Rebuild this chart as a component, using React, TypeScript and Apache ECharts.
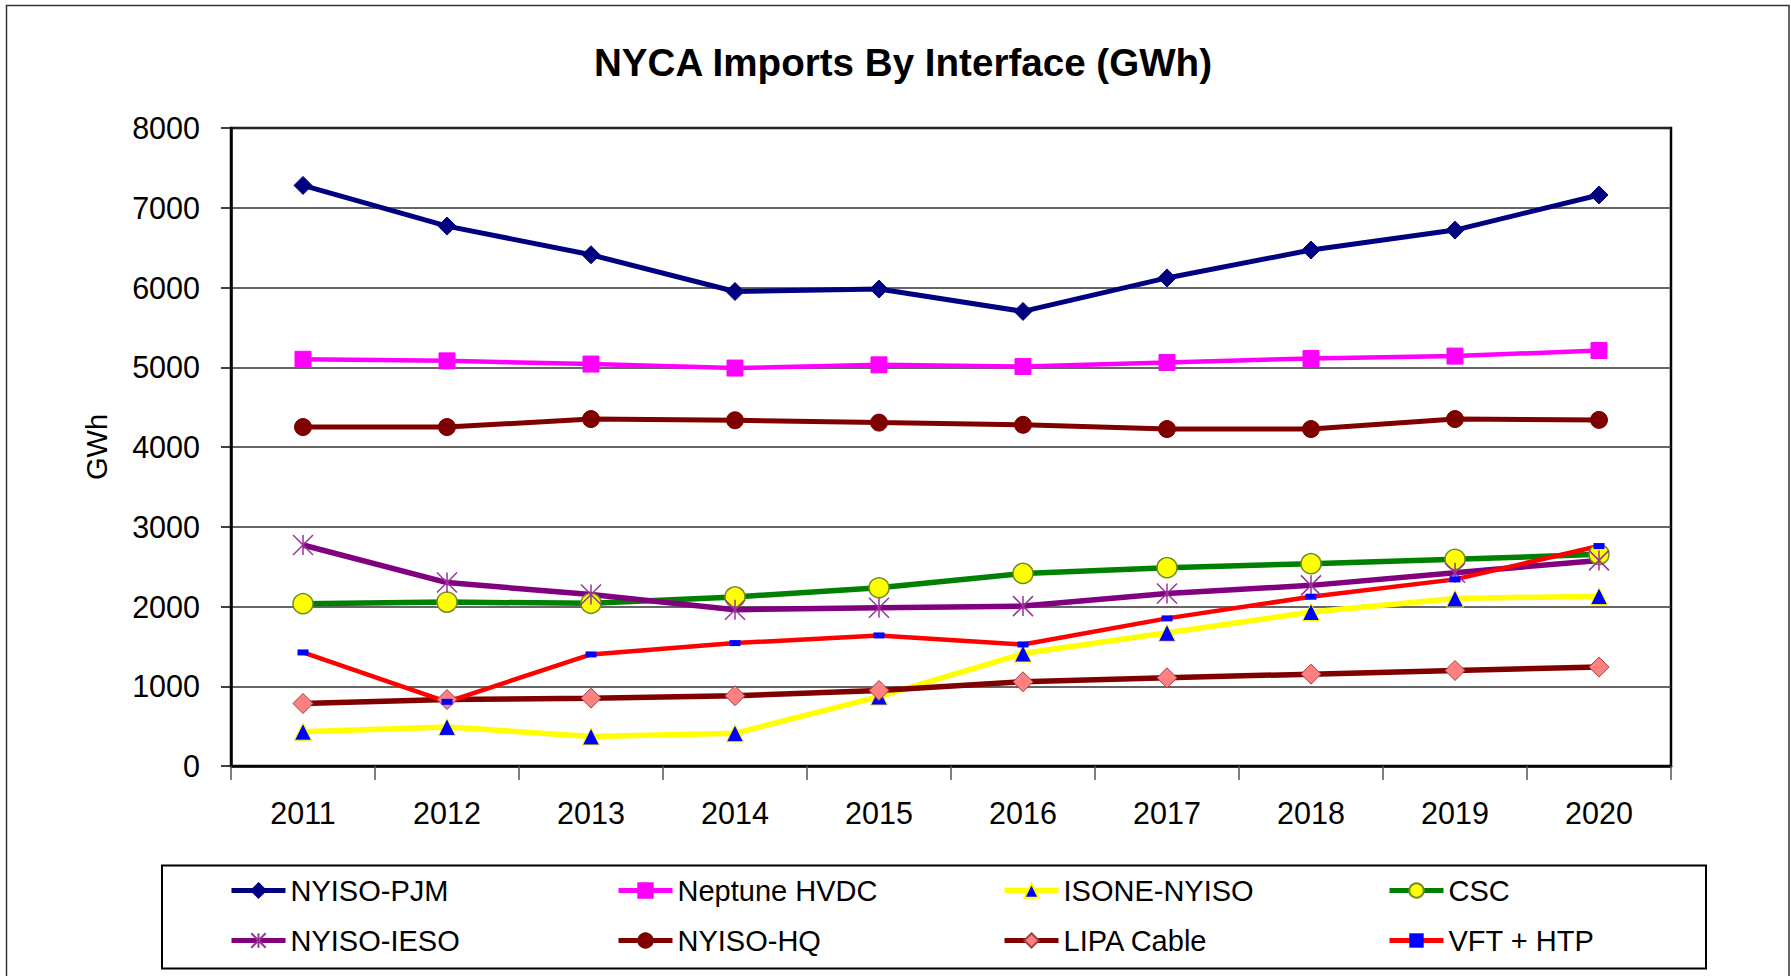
import React, { useEffect, useRef } from 'react';
import * as echarts from 'echarts';

const years = ['2011', '2012', '2013', '2014', '2015', '2016', '2017', '2018', '2019', '2020'];
const yTicks = { min: 0, max: 8000, interval: 1000 };

const nyisoPjm = [7280, 6770, 6410, 5950, 5980, 5700, 6120, 6470, 6720, 7160];
const neptuneHvdc = [5100, 5080, 5040, 4990, 5030, 5010, 5060, 5110, 5140, 5210];
const isoneNyiso = [430, 490, 370, 410, 870, 1410, 1670, 1930, 2100, 2130];
const csc = [2035, 2055, 2040, 2120, 2235, 2415, 2487, 2537, 2591, 2654];
const nyisoIeso = [2771, 2300, 2150, 1960, 1985, 2005, 2164, 2265, 2424, 2578];
const nyisoHq = [4250, 4250, 4350, 4335, 4306, 4278, 4225, 4225, 4350, 4340];
const lipaCable = [784, 834, 851, 881, 947, 1056, 1106, 1152, 1198, 1240];
const vftHtp = [1424, 805, 1399, 1541, 1637, 1524, 1851, 2123, 2340, 2758];

const seriesNames = ['NYISO-PJM', 'Neptune HVDC', 'ISONE-NYISO', 'CSC', 'NYISO-IESO', 'NYISO-HQ', 'LIPA Cable', 'VFT + HTP'];

const FONT = '"Liberation Sans", Arial, Helvetica, sans-serif';
const ASTERISK = 'path://M0,0L20,20M20,0L0,20M10,0L10,20';

export default function App() {
  const ref = useRef<HTMLDivElement>(null);

  useEffect(() => {
    document.body.style.margin = '0';
    if (!ref.current) return;
    const chart = echarts.init(ref.current, null, { renderer: 'svg' });

    const mk = (
      name: string,
      data: number[],
      lineColor: string,
      lineWidth: number,
      symbol: string,
      symbolSize: number | number[],
      itemStyle: any
    ) => ({
      name,
      type: 'line',
      data,
      symbol,
      symbolSize,
      showSymbol: true,
      lineStyle: { color: lineColor, width: lineWidth },
      itemStyle: { ...itemStyle },
      color: lineColor,
      emphasis: { disabled: true },
    });

    const series = [
      mk(seriesNames[0], nyisoPjm, '#000080', 5, 'diamond', 18, { color: '#000080', borderColor: '#000080', borderWidth: 1 }),
      mk(seriesNames[1], neptuneHvdc, '#FF00FF', 4.5, 'rect', 16, { color: '#FF00FF', borderColor: '#FF00FF', borderWidth: 1 }),
      mk(seriesNames[2], isoneNyiso, '#FFFF00', 5.5, 'triangle', 17, { color: '#0000FF', borderColor: '#FFFF00', borderWidth: 1 }),
      mk(seriesNames[3], csc, '#008000', 5.5, 'circle', 20, { color: '#FFFF00', borderColor: '#6B8E23', borderWidth: 1.5 }),
      mk(seriesNames[4], nyisoIeso, '#800080', 5.5, ASTERISK, 20, { color: '#993399', borderColor: '#993399', borderWidth: 1.5 }),
      mk(seriesNames[5], nyisoHq, '#800000', 5, 'circle', 17, { color: '#800000', borderColor: '#800000', borderWidth: 1 }),
      mk(seriesNames[6], lipaCable, '#800000', 5.5, 'diamond', 20, { color: '#FF8080', borderColor: '#A04040', borderWidth: 1 }),
      mk(seriesNames[7], vftHtp, '#FF0000', 4.5, 'rect', [11, 6], { color: '#0000FF', borderColor: '#0000FF', borderWidth: 0 }),
    ];

    const legendPos = [
      [229, 876], [616, 876], [1002, 876], [1387, 876],
      [229, 926], [616, 926], [1002, 926], [1387, 926],
    ];

    const legends = seriesNames.map((n, i) => ({
      data: [n],
      left: legendPos[i][0],
      top: legendPos[i][1],
      padding: 0,
      itemWidth: 54,
      itemHeight: 18,
      itemGap: 0,
      selectedMode: false,
      lineStyle: { width: 5 },
      textStyle: { fontFamily: FONT, fontSize: 29, color: '#000' },
    }));

    chart.setOption({
      animation: false,
      backgroundColor: '#fff',
      textStyle: { fontFamily: FONT },
      title: {
        text: 'NYCA Imports By Interface (GWh)',
        left: 594,
        top: 43,
        padding: 0,
        textStyle: { fontFamily: FONT, fontSize: 38.6, fontWeight: 'bold', color: '#000' },
      },
      legend: legends,
      grid: {
        left: 231,
        right: 120,
        top: 128,
        bottom: 210,
        show: true,
        borderColor: '#000',
        borderWidth: 2.5,
        backgroundColor: 'transparent',
        containLabel: false,
      },
      xAxis: {
        type: 'category',
        data: years,
        boundaryGap: true,
        axisLine: { show: true, lineStyle: { color: '#000', width: 2.5 } },
        axisTick: { show: true, length: 14, lineStyle: { color: '#555', width: 1.5 } },
        axisLabel: { fontFamily: FONT, fontSize: 30.5, color: '#000', margin: 31 },
        splitLine: { show: false },
      },
      yAxis: {
        type: 'value',
        min: yTicks.min,
        max: yTicks.max,
        interval: yTicks.interval,
        name: 'GWh',
        nameLocation: 'middle',
        nameRotate: 90,
        nameGap: 120,
        nameTextStyle: { fontFamily: FONT, fontSize: 29, color: '#000' },
        axisLine: { show: true, lineStyle: { color: '#000', width: 2.5 } },
        axisTick: { show: true, length: 10, lineStyle: { color: '#000', width: 1.5 } },
        axisLabel: {
          fontFamily: FONT,
          fontSize: 30.5,
          color: '#000',
          margin: 31,
          formatter: (v: number) => String(v),
        },
        splitLine: { show: true, lineStyle: { color: '#333', width: 1.5 } },
      },
      graphic: [
        {
          type: 'rect',
          silent: true,
          z: -10,
          shape: { x: 6.5, y: 5.5, width: 1782.5, height: 1000 },
          style: { fill: 'none', stroke: '#333', lineWidth: 1.5 },
        },
        {
          type: 'rect',
          silent: true,
          shape: { x: 162, y: 865.5, width: 1544, height: 103 },
          style: { fill: 'none', stroke: '#000', lineWidth: 2 },
        },
      ],
      series,
    });

    return () => chart.dispose();
  }, []);

  return <div ref={ref} style={{ width: 1791, height: 976 }} />;
}
